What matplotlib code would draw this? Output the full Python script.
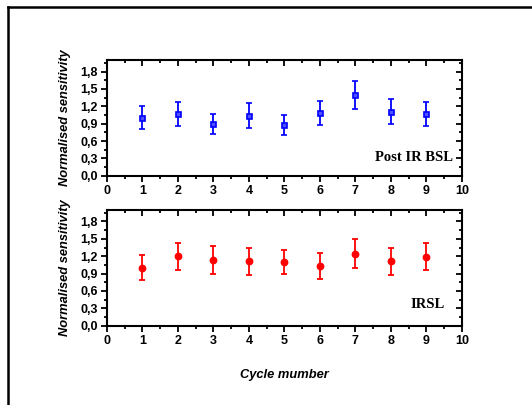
import numpy as np
import matplotlib
matplotlib.use("Agg")
import matplotlib.pyplot as plt
from matplotlib.lines import Line2D
from matplotlib.ticker import MultipleLocator

cycles = [1, 2, 3, 4, 5, 6, 7, 8, 9]

# Post IR BSL (top panel)
bsl_vals = [1.00, 1.07, 0.90, 1.04, 0.88, 1.09, 1.39, 1.11, 1.07]
bsl_err = [0.20, 0.21, 0.17, 0.21, 0.17, 0.21, 0.24, 0.21, 0.21]

# IRSL (bottom panel)
irsl_vals = [1.00, 1.20, 1.14, 1.11, 1.10, 1.03, 1.24, 1.11, 1.19]
irsl_err = [0.22, 0.23, 0.24, 0.235, 0.215, 0.23, 0.25, 0.24, 0.23]

y_ticks = [0.0, 0.3, 0.6, 0.9, 1.2, 1.5, 1.8]
y_ticklabels = ["0,0", "0,3", "0,6", "0,9", "1,2", "1,5", "1,8"]

plt.rcParams["font.family"] = ["Liberation Sans", "DejaVu Sans"]

fig = plt.figure(figsize=(5.32, 4.05), dpi=100)

# outer frame (only left and top edges are visible in the reference)
fig.add_artist(Line2D([8 / 532, 8 / 532], [0, 1 - 7 / 405], transform=fig.transFigure,
                      color="black", lw=1.8))
fig.add_artist(Line2D([8 / 532, 1], [1 - 7 / 405, 1 - 7 / 405], transform=fig.transFigure,
                      color="black", lw=1.8))

ax_top = fig.add_axes([0.2011, 0.566, 0.667, 0.2857])
ax_bot = fig.add_axes([0.2011, 0.196, 0.667, 0.2857])


def style_axis(ax):
    ax.set_xlim(0, 10)
    ax.set_ylim(0, 2.0)
    ax.xaxis.set_major_locator(MultipleLocator(1))
    ax.xaxis.set_minor_locator(MultipleLocator(0.5))
    ax.yaxis.set_minor_locator(MultipleLocator(0.15))
    ax.set_yticks(y_ticks)
    ax.set_yticklabels(y_ticklabels)
    for s in ax.spines.values():
        s.set_linewidth(1.5)
    ax.tick_params(which="both", width=1.3, labelsize=9, pad=2.5)
    ax.tick_params(which="major", length=4)
    ax.tick_params(which="minor", length=2.5)
    # outward ticks on bottom/left, inward on top/right
    ax.xaxis.set_tick_params(which="both", top=True, direction="out")
    ax.yaxis.set_tick_params(which="both", right=True, direction="out")
    for t in ax.xaxis.get_major_ticks() + ax.xaxis.get_minor_ticks():
        t.tick2line.set_marker(3)  # TICKDOWN -> inward from top spine
    for t in ax.yaxis.get_major_ticks() + ax.yaxis.get_minor_ticks():
        t.tick2line.set_marker(0)  # TICKLEFT -> inward from right spine
    for lab in ax.get_xticklabels() + ax.get_yticklabels():
        lab.set_fontweight("bold")
    ax.set_ylabel("Normalised sensitivity", fontsize=9.3, fontweight="bold",
                  fontstyle="italic", labelpad=7)


style_axis(ax_top)
style_axis(ax_bot)

ax_top.errorbar(cycles, bsl_vals, yerr=bsl_err, fmt="s", color="#0000ff",
                ms=3.6, mfc="#5050ff", mec="#0000ff", mew=1.2,
                elinewidth=1.3, capsize=2.5, capthick=1.3)
ax_top.text(9.75, 0.32, "Post IR BSL", family=["Liberation Serif", "DejaVu Serif"],
            fontsize=10.5, fontweight="bold", ha="right", va="center")

ax_bot.errorbar(cycles, irsl_vals, yerr=irsl_err, fmt="o", color="#ff0000",
                ms=4.6, mfc="#ff0000", mec="#ff0000",
                elinewidth=1.3, capsize=2.5, capthick=1.3)
ax_bot.text(9.52, 0.36, "IRSL", family=["Liberation Serif", "DejaVu Serif"],
            fontsize=10.5, fontweight="bold", ha="right", va="center")
ax_bot.set_xlabel("Cycle mumber", fontsize=9.3, fontweight="bold",
                  fontstyle="italic", labelpad=16)

fig.savefig("out.png", dpi=100)
